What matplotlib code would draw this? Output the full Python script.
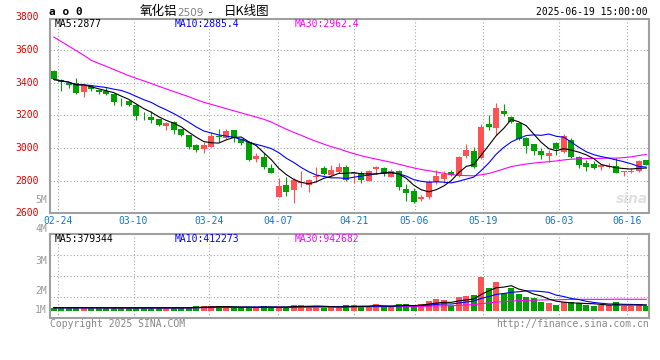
import matplotlib
matplotlib.use("Agg")
import matplotlib.pyplot as plt
import numpy as np
import pandas as pd
from matplotlib.transforms import blended_transform_factory

plt.rcParams['font.family'] = ['DejaVu Sans Mono', 'Noto Sans CJK SC']

# ---------------- data ----------------
opens = [3469, 3414, 3398, 3400, 3345, 3378, 3353, 3347, 3333, 3284,
         3286, 3265, 3192, 3190, 3176, 3135, 3159, 3114, 3078, 3020,
         2992, 3008, 3074, 3059, 3110, 3053, 3039, 2935, 2947, 2878,
         2702, 2773, 2743, 2783, 2773, 2820, 2875, 2835, 2855, 2886,
         2839, 2849, 2800, 2869, 2875, 2824, 2859, 2749, 2739, 2686,
         2702, 2794, 2810, 2855, 2829, 2953, 2982, 2937, 3147, 3120,
         3229, 3192, 3150, 3063, 3024, 2984, 2951, 3033, 2978, 3050,
         2945, 2910, 2904, 2882, 2884, 2888, 2851, 2853, 2858, 2927]
highs = [3477, 3420, 3402, 3430, 3392, 3388, 3357, 3372, 3337, 3306,
         3292, 3272, 3220, 3225, 3180, 3157, 3163, 3116, 3080, 3022,
         3039, 3096, 3114, 3116, 3112, 3057, 3043, 2971, 2971, 2902,
         2814, 2820, 2814, 2861, 2810, 2886, 2890, 2896, 2910, 2896,
         2861, 2861, 2865, 2892, 2886, 2871, 2865, 2778, 2753, 2715,
         2804, 2865, 2861, 2865, 2951, 3024, 3008, 3147, 3202, 3278,
         3268, 3198, 3155, 3067, 3026, 3002, 2988, 3039, 3086, 3060,
         2950, 2925, 2918, 2902, 2910, 2940, 2862, 2878, 2925, 2929]
lows = [3418, 3350, 3365, 3333, 3314, 3348, 3333, 3325, 3262, 3257,
        3257, 3170, 3170, 3150, 3137, 3108, 3088, 3076, 2992, 2975,
        2971, 3006, 3039, 3057, 3039, 3020, 2920, 2916, 2871, 2845,
        2698, 2708, 2661, 2763, 2733, 2794, 2835, 2830, 2848, 2800,
        2784, 2788, 2798, 2841, 2828, 2824, 2743, 2678, 2665, 2678,
        2686, 2780, 2784, 2830, 2820, 2937, 2876, 2930, 3110, 3080,
        3196, 3155, 3050, 2970, 2960, 2930, 2916, 2957, 2970, 2938,
        2880, 2860, 2870, 2865, 2878, 2845, 2830, 2845, 2851, 2894]
closes = [3420, 3402, 3388, 3337, 3388, 3359, 3340, 3329, 3280, 3280,
          3262, 3196, 3188, 3170, 3139, 3153, 3108, 3078, 3006, 2986,
          3018, 3073, 3067, 3104, 3059, 3033, 2926, 2951, 2886, 2849,
          2767, 2733, 2804, 2794, 2804, 2828, 2841, 2865, 2886, 2806,
          2849, 2804, 2861, 2882, 2841, 2859, 2763, 2727, 2671, 2702,
          2794, 2829, 2841, 2835, 2943, 2988, 2886, 3131, 3131, 3243,
          3210, 3161, 3055, 3014, 2984, 2960, 2967, 2992, 3075, 2943,
          2896, 2884, 2876, 2896, 2890, 2849, 2859, 2861, 2920, 2896]
volumes = [280000, 270000, 280000, 275000, 260000, 270000, 270000, 265000, 275000, 260000,
           250000, 280000, 275000, 270000, 270000, 260000, 270000, 275000, 285000, 400000,
           390000, 400000, 390000, 310000, 290000, 290000, 370000, 300000, 390000, 300000,
           300000, 380000, 470000, 470000, 400000, 400000, 290000, 320000, 290000, 481000,
           481000, 396000, 396000, 566000, 340000, 396000, 566000, 566000, 396000, 566000,
           821000, 990000, 906000, 396000, 1160000, 1245000, 1387000, 2858000, 1924000, 2462000,
           1528000, 1981000, 1415000, 1160000, 1075000, 764000, 679000, 481000, 764000, 764000,
           679000, 481000, 396000, 481000, 481000, 764000, 396000, 396000, 566000, 396000]
# MA30 of the first 29 sessions (window reaches back before the chart)
ma30_head = [3680, 3652, 3624, 3596, 3568, 3537, 3518, 3500, 3481, 3462,
             3443, 3427, 3411, 3395, 3378, 3362, 3346, 3330, 3314, 3296,
             3280, 3267, 3254, 3241, 3228, 3215, 3202, 3189, 3176]

tick_labels = ['02-24', '03-10', '03-24', '04-07', '04-21', '05-06', '05-19', '06-03', '06-16']
tick_index = [1, 11, 21, 30, 40, 48, 57, 67, 76]
price_ticks = [2600, 2800, 3000, 3200, 3400, 3600, 3800]
vol_labels = ['5M', '4M', '3M', '2M', '1M']

title_name = '氧化铝'
title_code = '2509'
title_kind = '日K线图'
stamp = '2025-06-19 15:00:00'
price_ma_text = ['MA5:2877', 'MA10:2885.4', 'MA30:2962.4']
vol_ma_text = ['MA5:379344', 'MA10:412273', 'MA30:942682']

# ---------------- derived ----------------
n = len(closes)
x = np.arange(n)
o = np.array(opens, float); c = np.array(closes, float)
h = np.array(highs, float); l = np.array(lows, float)
v = np.array(volumes, float)
cs = pd.Series(c)
ma5 = cs.rolling(5, min_periods=1).mean().values
ma10 = cs.rolling(10, min_periods=1).mean().values
ma30 = cs.rolling(30).mean().values
ma30[:len(ma30_head)] = ma30_head
vs = pd.Series(v)
vma5 = vs.rolling(5, min_periods=1).mean().values
vma10 = vs.rolling(10, min_periods=1).mean().values
vma30 = vs.rolling(30, min_periods=1).mean().values

RED = '#ff5252'
GREEN = '#00a000'
cols = [RED if cc >= oo else GREEN for oo, cc in zip(o, c)]
grid_x = -0.5 + np.array(tick_index) * n / (n - 1)

W, H = 660, 360
fig = plt.figure(figsize=(6.6, 3.6), dpi=100)
fig.patch.set_facecolor('white')

def fx(px):
    return px / W

def fy(py):
    return 1 - py / H

L, R = 50, 649
ax = fig.add_axes([fx(L), fy(213.3), fx(R - L), (213.3 - 19) / H])
axv = fig.add_axes([fx(L), fy(318), fx(R - L), (318 - 234) / H])

XL = (-0.5, -0.5 + (R - L) / 7.5)
GRIDC = '#a8a8a8'
DOT = (0, (1, 2))
LW = 0.8

# ---------- price panel ----------
ax.set_xlim(*XL)
ax.set_ylim(2600, 3790)
for gy in price_ticks[1:-1]:
    ax.axhline(gy, color=GRIDC, lw=0.8, ls=DOT, zorder=0)
for gx in grid_x:
    ax.axvline(gx, color=GRIDC, lw=0.8, ls=DOT, zorder=0)
ax.vlines(x, l, h, colors=cols, lw=LW, zorder=2)
body = np.maximum(np.abs(c - o), 4)
ax.bar(x, body, bottom=np.minimum(o, c), width=0.75, color=cols, zorder=3, linewidth=0)
ax.plot(x, ma30, color='#ff00ff', lw=LW, zorder=4)
ax.plot(x, ma10, color='#0000ff', lw=LW, zorder=4)
ax.plot(x, ma5, color='black', lw=LW, zorder=4)
ax.set_xticks([]); ax.set_yticks([])
for s in ax.spines.values():
    s.set_color('#a0a0a0'); s.set_linewidth(1.5)

# price labels
for p in price_ticks:
    ax.text(-0.018, p, str(p), transform=blended_transform_factory(ax.transAxes, ax.transData),
            ha='right', va='center', color='#e00000', fontsize=7, clip_on=False)
# date labels
tb = blended_transform_factory(ax.transData, ax.transAxes)
for gx, lab in zip(grid_x, tick_labels):
    ax.text(gx, -0.042, lab, transform=tb, ha='center', va='center', color='#1478c8', fontsize=7)

# watermark
ax.text(0.972, 0.075, 'sina', transform=ax.transAxes, ha='center', va='center',
        fontsize=10, color='#e0e0e0', style='italic', fontweight='bold', family='DejaVu Sans', zorder=1)

# ---------- volume panel ----------
axv.set_xlim(*XL)
vlo, vhi = -7 * 85000, 77 * 85000
axv.set_ylim(vlo, vhi)
for k in (1, 2, 3):
    axv.axhline(vlo + (vhi - vlo) * k / 4, color=GRIDC, lw=0.8, ls=DOT, zorder=0)
for gx in grid_x:
    axv.axvline(gx, color=GRIDC, lw=0.8, ls=DOT, zorder=0)
axv.bar(x, v, width=0.8, color=cols, zorder=2, linewidth=0)
axv.plot(x, vma30, color='#ff00ff', lw=LW, zorder=4)
axv.plot(x, vma10, color='#0000ff', lw=LW, zorder=4)
axv.plot(x, vma5, color='black', lw=LW, zorder=4)
axv.set_xticks([]); axv.set_yticks([])
for s in axv.spines.values():
    s.set_color('#a0a0a0'); s.set_linewidth(1.5)

# volume scale labels (placed where the picture shows them)
for lab, py in zip(vol_labels, [200, 229, 261, 291, 310]):
    fig.text(fx(47), fy(py), lab, ha='right', va='center', color='#9a9a9a', fontsize=7)

# ---------- header / footer texts ----------
fig.text(fx(49), fy(12), 'a o 0', ha='left', va='center', fontsize=8, fontweight='bold', color='black')
fig.text(fx(140), fy(12), title_name, ha='left', va='center', fontsize=9,
         family=['Noto Sans CJK SC'], color='black')
fig.text(fx(177), fy(12.5), title_code, ha='left', va='center', fontsize=7.5,
         family=['DejaVu Sans'], color='#808080')
fig.text(fx(206), fy(12), '-', ha='left', va='center', fontsize=8, color='black')
fig.text(fx(224), fy(12), title_kind, ha='left', va='center', fontsize=9,
         family=['Noto Sans CJK SC'], color='black')
fig.text(fx(648), fy(12), stamp, ha='right', va='center', fontsize=7, color='black')

ma_cols = ['black', '#0000ff', '#ff00ff']
for t, px, cc in zip(price_ma_text, [55, 175, 295], ma_cols):
    fig.text(fx(px), fy(24), t, ha='left', va='center', fontsize=7, color=cc)
for t, px, cc in zip(vol_ma_text, [55, 175, 295], ma_cols):
    fig.text(fx(px), fy(238.5), t, ha='left', va='center', fontsize=7, color=cc)

fig.text(fx(50), fy(324), 'Copyright 2025 SINA.COM', ha='left', va='center', fontsize=7, color='#888888')
fig.text(fx(649), fy(324), 'http://finance.sina.com.cn', ha='right', va='center', fontsize=7, color='#888888')

fig.savefig('out.png', dpi=100, facecolor='white')
